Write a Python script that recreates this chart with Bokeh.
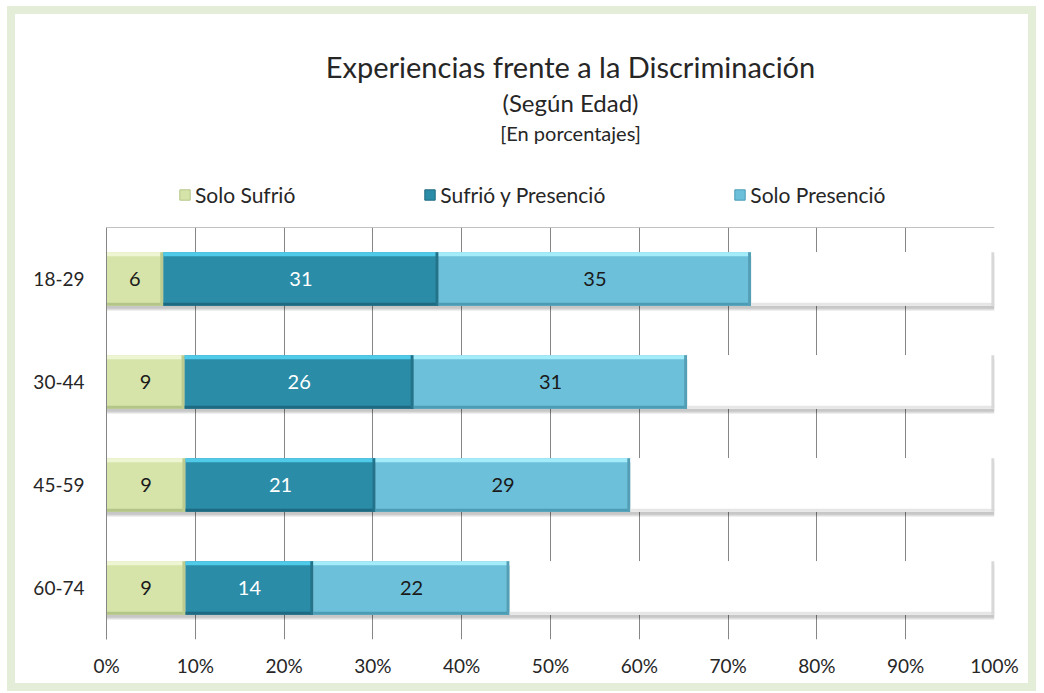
from bokeh.plotting import figure
from bokeh.models import (FactorRange, ColumnDataSource, Legend, LegendItem, Span, FixedTicker,
                          Range1d, Label)
from bokeh.transform import dodge
from bokeh.layouts import column
from bokeh.embed import file_html
from bokeh.resources import INLINE
from bokeh.core.properties import value

# ---------------- data ----------------
ages = ["18-29", "30-44", "45-59", "60-74"]
solo_sufrio = [6.4, 8.8, 8.9, 8.9]
sufrio_presencio = [31.0, 25.8, 21.4, 14.4]
solo_presencio = [35.2, 30.8, 28.7, 22.1]
series_names = ["Solo Sufrió", "Sufrió y Presenció", "Solo Presenció"]
x_ticks = [0, 10, 20, 30, 40, 50, 60, 70, 80, 90, 100]
x_tick_labels = ["0%", "10%", "20%", "30%", "40%", "50%", "60%", "70%", "80%", "90%", "100%"]
title_lines = ["Experiencias frente a la Discriminación", "(Según Edad)", "[En porcentajes]"]

FONT = "Lato"
TXT = "#262626"

series = [solo_sufrio, sufrio_presencio, solo_presencio]
remainder = [100 - sum(v) for v in zip(*series)]

# colours: main, top highlight, bottom shade, right edge, label colour
styles_ = [
    ("#D6E4AA", "#EEF5D2", "#B4C588", "#BCCC90", "#1a1a1a"),
    ("#2B8CA7", "#4FCAE8", "#1E6A81", "#23738B", "#FFFFFF"),
    ("#6DC0D9", "#A5ECFA", "#4C9CB5", "#549FB6", "#1a1a1a"),
    ("#FFFFFF", "#FFFFFF", "#E6E6E6", "#D8D8D8", "#1a1a1a"),
]

data = {"age": ages}
starts = [0.0] * len(ages)
all_series = series + [remainder]
for i, vals in enumerate(all_series):
    ends = [s + v for s, v in zip(starts, vals)]
    data[f"s{i}"] = starts
    data[f"e{i}"] = ends
    data[f"m{i}"] = [(s + e) / 2 for s, e in zip(starts, ends)]
    data[f"r{i}"] = [max(e - 0.35, s) for s, e in zip(starts, ends)]
    data[f"lbl{i}"] = [str(int(round(v))) for v in vals]
    starts = ends
data["zero"] = [0.0] * len(ages)
data["full"] = [100.0] * len(ages)
src = ColumnDataSource(data)

W = 1013
HH = 200          # header (titles + legend)
H = 469           # chart
ML, MR = 91, 34   # left / right borders (frames of both figures align)
FW = W - ML - MR  # frame width in px

# ---------------- header figure ----------------
hdr = figure(width=W, height=HH, output_backend="svg", toolbar_location=None,
             x_range=Range1d(0, FW), y_range=Range1d(0, HH),
             x_axis_type=None, y_axis_type=None,
             min_border_left=ML, min_border_right=MR, min_border_top=0, min_border_bottom=0)
hdr.outline_line_color = None
hdr.grid.visible = False
hdr.border_fill_color = None
hdr.background_fill_color = None

for txt, yy, fs in zip(title_lines, [148, 112, 82], ["29px", "24px", "20px"]):
    hdr.add_layout(Label(x=464, y=yy, text=txt, text_align="center", text_baseline="middle",
                         text_font=FONT, text_font_size=fs, text_color=TXT))

# legend swatches (one off-screen row each, only used for the legend glyphs)
leg_src = ColumnDataSource({"y": [-50], "l": [0], "r": [1]})
leg_renderers = []
for (main, top, bot, right, lc) in styles_[:3]:
    leg_renderers.append(hdr.hbar(y="y", left="l", right="r", height=1, source=leg_src,
                                  fill_color=main, line_color=bot))
legend = Legend(items=[LegendItem(label=n, renderers=[r]) for n, r in zip(series_names, leg_renderers)],
                orientation="horizontal", location=(72, 7), padding=0, margin=0,
                spacing=128, glyph_width=13, glyph_height=13, label_standoff=4,
                label_text_font=FONT, label_text_font_size="21px", label_text_color=TXT,
                border_line_color=None, background_fill_alpha=0, label_height=20)
hdr.add_layout(legend)

# ---------------- chart figure ----------------
p = figure(width=W, height=H, output_backend="svg", toolbar_location=None,
           y_range=FactorRange(*reversed(ages), range_padding=0),
           x_range=Range1d(0, 100),
           min_border_left=ML, min_border_right=MR, min_border_top=13, min_border_bottom=44)
p.outline_line_color = None
p.background_fill_color = "white"
p.border_fill_color = None

BAR = 0.52
# drop shadow
p.hbar(y=dodge("age", -0.045, range=p.y_range), left="zero", right="full", height=BAR,
       source=src, fill_color="#000000", fill_alpha=0.13, line_color=None)
p.hbar(y=dodge("age", -0.03, range=p.y_range), left="zero", right="full", height=BAR,
       source=src, fill_color="#000000", fill_alpha=0.10, line_color=None)

for i, (main, top, bot, right, lc) in enumerate(styles_):
    p.hbar(y="age", left=f"s{i}", right=f"e{i}", height=BAR, source=src,
           fill_color=main, line_color=None)
    p.hbar(y=dodge("age", BAR / 2 - 0.02, range=p.y_range), left=f"s{i}", right=f"e{i}",
           height=0.04, source=src, fill_color=top, line_color=None)
    p.hbar(y=dodge("age", -BAR / 2 + 0.015, range=p.y_range), left=f"s{i}", right=f"e{i}",
           height=0.03, source=src, fill_color=bot, line_color=None)
    p.hbar(y="age", left=f"r{i}", right=f"e{i}", height=BAR, source=src,
           fill_color=right, line_color=None)
    if i < 3:
        p.text(x=f"m{i}", y="age", text=f"lbl{i}", source=src, text_align="center",
               text_baseline="middle", text_font=value(FONT), text_font_size="20px",
               text_color=lc)

# top border line of plot area
p.add_layout(Span(location=len(ages), dimension="width", line_color="#868686", line_width=1))

# axes / grid
p.xaxis.ticker = FixedTicker(ticks=x_ticks)
p.xaxis.major_label_overrides = {t: l for t, l in zip(x_ticks, x_tick_labels)}
p.xaxis.axis_line_color = None
p.xaxis.major_tick_line_color = None
p.xaxis.major_tick_out = 0
p.xaxis.major_tick_in = 0
p.xaxis.minor_tick_line_color = None
p.xaxis.major_label_standoff = 14
p.xaxis.major_label_text_font = FONT
p.xaxis.major_label_text_font_size = "19px"
p.xaxis.major_label_text_color = TXT

p.yaxis.axis_line_color = "#868686"
p.yaxis.major_tick_line_color = None
p.yaxis.major_tick_out = 0
p.yaxis.major_tick_in = 0
p.yaxis.minor_tick_line_color = None
p.yaxis.major_label_standoff = 22
p.yaxis.major_label_text_font = FONT
p.yaxis.major_label_text_font_size = "19px"
p.yaxis.major_label_text_color = TXT

p.xgrid.ticker = FixedTicker(ticks=x_ticks)
p.xgrid.grid_line_color = "#868686"
p.ygrid.grid_line_color = None

layout = column(hdr, p, spacing=0,
                styles={"background-color": "white", "padding": "8px",
                        "box-shadow": "inset 0 0 0 8px #E3EDD8",
                        "margin-left": "7px", "margin-top": "6px"})

open("out.html", "w").write(file_html(layout, INLINE))
